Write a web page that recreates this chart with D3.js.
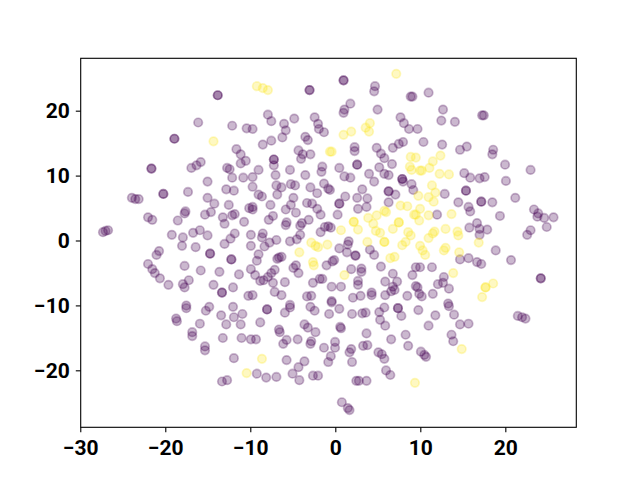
<!DOCTYPE html>
<html>
<head>
<meta charset="utf-8">
<script src="https://cdn.jsdelivr.net/npm/d3@7"></script>
<style>
  html, body { margin: 0; padding: 0; background: #fff; }
  svg { display: block; }
  .tick text { font-family: Roboto, sans-serif; font-weight: 700; font-size: 21px; fill: #000; }
</style>
</head>
<body>
<svg id="chart" width="640" height="480"></svg>
<script>
const xTicks = [-30, -20, -10, 0, 10, 20];
const yTicks = [-20, -10, 0, 10, 20];

// repeated pairs are the spots that look darker
const purplePoints = [
  [-13.9,22.3],[-13.9,22.3],[-16.2,18.1],[-12.2,17.6],[-10.5,17.2],[-19.0,15.6],[-19.0,15.6],[-11.7,14.0],[-11.2,13.2],[-10.6,12.2],
  [-11.2,11.8],[-15.9,12.0],[-16.4,11.5],[-17.0,11.1],[-21.7,11.0],[-21.7,11.0],[-12.8,11.1],[-12.5,10.9],[-12.2,9.6],[-10.9,9.6],
  [-15.1,9.0],[-12.9,7.8],[-12.0,7.6],[-17.4,7.4],[-20.3,7.1],[-20.3,7.1],[-24.0,6.5],[-23.6,6.3],[-23.2,6.3],[-15.1,6.5],
  [-14.3,5.6],[-12.6,5.4],[-10.2,4.9],[-14.7,4.3],[-15.4,3.9],[-17.7,4.4],[-17.8,4.1],[-13.3,3.5],[-11.9,4.0],[-12.2,3.8],
  [-22.1,3.5],[-21.6,3.1],[-18.6,3.0],[-13.1,2.5],[-10.8,2.8],[-26.8,1.5],[-27.1,1.4],[-27.4,1.2],[-16.0,1.5],[-16.8,1.1],
  [-15.1,0.7],[-19.3,0.8],[-18.0,0.4],[-11.9,1.0],[-12.4,0.2],[-13.1,-0.6],[-10.0,0.8],[-18.1,-0.9],[-16.5,-1.1],[-10.0,-0.9],
  [-14.8,-2.1],[-14.8,-2.1],[-12.3,-3.0],[-12.3,-3.0],[-20.8,-1.7],[-21.1,-2.3],[-22.1,-3.7],[-21.6,-4.5],[-21.3,-5.1],[-20.7,-5.9],
  [-19.7,-6.9],[-17.8,-4.0],[-15.9,-4.7],[-13.7,-4.9],[-11.4,-5.3],[-10.0,-4.5],[-17.3,-6.2],[-18.0,-6.8],[-17.8,-7.3],[-14.4,-6.9],
  [-12.1,-7.3],[-13.4,-8.1],[-13.4,-8.1],[-10.3,-8.6],[-9.8,-8.5],[-17.6,-10.1],[-17.6,-10.5],[-14.9,-10.3],[-15.3,-10.9],[-12.1,-10.3],
  [-13.5,-11.6],[-12.0,-11.9],[-11.0,-11.4],[-8.1,-10.7],[-8.1,-10.7],[-5.4,-10.0],[-5.4,-10.4],[-6.0,-11.2],[-18.8,-12.1],[-18.7,-12.5],
  [-16.0,-12.9],[-12.9,-13.0],[-11.2,-13.0],[-8.9,-12.7],[-6.7,-13.8],[-6.6,-14.2],[-16.9,-14.2],[-16.9,-14.8],[-13.3,-15.1],[-11.1,-15.1],
  [-10.0,-15.3],[-9.4,-15.3],[-5.8,-15.4],[-6.2,-16.0],[-4.5,-15.3],[-15.4,-16.4],[-15.4,-17.0],[-12.0,-18.2],[-5.8,-18.5],[-4.4,-19.6],
  [-9.3,-20.6],[-8.2,-21.2],[-7.0,-21.1],[-5.1,-20.6],[-4.3,-21.6],[-13.4,-21.8],[-12.8,-21.6],[-3.0,-10.3],[-2.5,-10.9],[-0.5,-9.4],
  [-0.5,-9.6],[0.4,-10.6],[-0.8,-11.4],[1.9,-11.4],[3.1,-11.3],[3.5,-11.2],[5.1,-11.1],[5.7,-10.4],[7.3,-10.5],[7.3,-10.5],
  [7.7,-11.7],[9.7,-10.8],[11.7,-11.6],[13.2,-9.8],[13.3,-10.2],[13.9,-11.5],[14.6,-13.0],[15.6,-12.9],[5.2,-12.3],[5.8,-13.2],
  [10.9,-13.2],[-3.7,-13.0],[-3.3,-13.5],[-2.4,-14.2],[0.5,-13.4],[0.6,-13.6],[3.6,-14.4],[13.6,-14.6],[13.8,-15.6],[8.2,-14.6],
  [6.5,-15.3],[8.5,-16.3],[3.2,-16.3],[3.7,-16.2],[-0.1,-15.7],[-0.1,-16.6],[-1.4,-16.6],[-2.9,-15.6],[-3.0,-16.0],[1.8,-16.8],
  [1.6,-17.3],[5.0,-17.3],[5.4,-17.6],[5.7,-18.3],[10.0,-17.2],[10.4,-17.7],[10.6,-18.0],[-0.6,-17.9],[-0.9,-18.8],[1.9,-18.8],
  [-3.7,-18.7],[5.9,-20.1],[6.4,-20.8],[-2.7,-20.9],[-2.1,-20.9],[2.4,-21.7],[2.7,-21.7],[3.6,-21.7],[0.7,-25.0],[1.4,-25.9],
  [1.6,-26.2],[21.4,-11.7],[21.9,-11.9],[22.3,-12.1],
  [-9.8,8.2],[-7.0,8.4],[-6.4,8.1],[-6.9,7.0],[-5.3,8.6],[-4.8,8.4],[-3.0,8.1],[-1.4,8.7],[-0.9,7.9],[-0.7,7.7],
  [-2.2,7.2],[-5.0,6.5],[-5.3,5.4],[-5.9,4.7],[-4.7,4.2],[-9.1,7.0],[-8.7,6.7],[-7.7,5.4],[-7.4,3.7],[-7.9,3.1],
  [-5.8,2.7],[-5.9,2.3],[-4.0,2.6],[-4.2,2.2],[-3.2,3.1],[-3.4,5.7],[-2.8,5.6],[-2.2,4.8],[-1.8,3.9],[0.4,5.6],
  [0.4,5.6],[0.2,3.9],[1.1,6.7],[3.1,7.8],[2.5,6.5],[3.7,6.4],[3.6,5.1],[2.6,4.8],[4.5,9.0],[6.2,7.5],
  [6.2,7.5],[7.0,7.0],[6.2,5.8],[7.9,9.0],[8.9,8.6],[9.1,7.7],[-1.3,2.0],[-0.9,2.1],[-0.6,1.9],[-1.8,1.2],
  [1.5,-0.2],[1.4,-0.7],[0.4,-1.3],[1.3,-1.9],[2.3,-2.4],[2.3,-2.4],[4.0,-1.5],[4.5,-2.3],[-0.2,-3.1],[-0.4,-3.3],
  [-1.1,-3.9],[3.0,-4.4],[3.0,-4.9],[1.8,-4.5],[5.3,-4.1],[6.7,-5.2],[2.6,-6.3],[2.6,-6.9],[0.6,-7.2],[-0.5,-7.2],
  [-1.6,-6.0],[-1.9,-6.0],[-2.7,-6.6],[-4.4,-5.1],[-4.7,-3.9],[-5.0,-4.3],[-6.7,-2.7],[-6.4,-2.6],[-6.9,-2.9],[-9.3,-3.2],
  [-9.1,-2.2],[-8.4,-1.0],[-7.8,-0.4],[-7.0,0.0],[-8.7,0.4],[-8.6,1.0],[-5.4,-0.2],[-4.6,0.1],[-4.2,0.8],[-7.2,-4.6],
  [-7.6,-5.1],[-8.0,-5.7],[-8.5,-6.2],[-9.5,-5.4],[-8.9,-6.3],[-7.4,-6.6],[-6.0,-6.5],[-7.2,-8.0],[-6.4,-8.5],[-3.4,-8.7],
  [-2.9,-8.6],[2.0,-8.9],[2.9,-8.6],[4.2,-8.1],[4.2,-8.5],[5.8,-6.4],[7.2,-6.4],[6.7,-7.2],[6.9,-7.7],[6.5,-7.9],
  [5.8,-8.5],[8.4,-8.6],[9.0,-5.4],[9.4,-7.1],[9.4,-4.2],[9.9,-4.2],[-9.8,4.7],[-9.8,5.1],
  [0.9,24.6],[0.9,24.6],[-3.1,23.1],[-3.1,23.1],[4.6,23.7],[4.5,22.9],[8.8,22.1],[9.0,22.1],[1.7,21.0],[1.0,20.1],
  [0.9,19.6],[4.9,20.1],[-8.0,19.3],[-7.6,18.3],[-6.1,17.9],[-4.9,18.7],[-2.5,18.9],[-2.1,17.9],[-2.0,17.1],[-1.4,16.6],
  [-5.9,16.9],[-9.8,17.1],[-6.3,15.8],[-7.6,15.3],[-8.6,14.7],[-3.6,15.9],[-3.3,15.4],[-4.4,13.8],[-3.9,13.2],[-4.1,12.5],
  [-3.0,13.2],[-7.3,12.4],[-7.3,12.4],[-7.3,11.5],[-9.1,10.8],[-5.4,10.8],[-7.1,10.0],[-3.6,10.0],[-9.8,9.7],[-1.6,11.3],
  [-1.7,10.5],[0.4,11.1],[1.0,9.8],[1.7,9.6],[2.5,11.6],[2.5,11.6],[3.9,10.2],[5.1,11.2],[5.7,10.2],[6.2,10.0],
  [6.6,11.7],[5.7,12.6],[5.3,13.3],[4.8,14.2],[6.7,14.2],[7.4,14.8],[7.9,15.1],[2.2,14.3],[2.2,13.7],[7.6,18.9],
  [8.0,18.0],[8.6,17.1],[9.6,17.1],[7.8,9.4],[7.8,9.4],
  [10.9,22.7],[12.6,20.1],[12.4,18.4],[14.0,18.2],[17.2,19.2],[17.4,19.2],[10.3,15.1],[12.5,14.7],[14.6,13.9],[15.4,14.4],
  [18.5,13.9],[18.4,13.2],[19.9,11.6],[22.9,10.8],[15.1,10.3],[15.8,9.6],[16.9,9.5],[17.5,9.7],[20.0,9.1],
  [12.8,7.1],[15.3,7.6],[15.3,7.6],[14.4,5.8],[17.1,5.9],[17.1,5.9],[18.4,5.8],[21.1,6.5],[15.6,5.1],[15.8,4.4],
  [11.9,3.9],[19.3,3.7],[23.3,4.7],[23.8,4.1],[23.7,3.6],[24.5,3.4],[25.6,3.5],[24.8,2.0],[22.9,1.5],[22.5,0.8],
  [16.6,2.6],[15.7,1.9],[16.9,1.7],[17.8,1.6],[16.9,0.8],[18.8,-1.6],[20.6,-3.1],[15.6,-2.8],[14.6,-3.0],[16.6,-3.4],
  [17.1,-3.7],[11.3,-4.2],[24.1,-5.9],[24.1,-5.9],[12.7,-5.7],[12.6,-6.6],[12.0,-6.8],[13.3,-7.5],[9.6,-7.3],[9.8,-8.3],
  [10.1,-8.7],[11.4,-8.3]
];

const yellowPoints = [
  [-14.4,15.2],[-8.7,-18.3],[-10.5,-20.5],[14.8,-16.8],[9.3,-22.0],[0.6,1.5],[2.1,2.8],[2.1,2.8],[2.6,1.6],[3.8,3.4],
  [4.4,2.5],[4.8,3.8],[5.7,4.5],[5.9,4.3],[7.6,5.3],[8.4,5.2],[9.4,3.9],[9.2,3.9],[9.7,6.8],[6.7,1.7],
  [7.4,2.7],[7.4,2.7],[4.7,1.4],[5.2,1.1],[3.7,-0.3],[5.7,-0.3],[5.7,-0.3],[8.5,1.2],[8.8,0.7],[8.2,-0.3],
  [7.8,-0.8],[6.4,-2.8],[6.9,-2.6],[-4.3,-1.9],[-2.9,-0.4],[-2.4,-0.9],[-2.1,-1.1],[-1.0,-0.7],[-2.7,-3.4],[-2.6,-3.9],
  [1.0,-5.4],[7.1,25.6],[-9.3,23.7],[-8.6,23.4],[-8.0,23.1],[4.0,18.0],[3.5,17.3],[3.9,16.7],[1.8,16.7],[0.9,16.2],
  [-0.7,13.6],[-0.5,13.6],[8.8,12.8],[9.4,12.7],[8.7,11.3],[8.9,10.8],[9.9,10.7],[12.3,13.0],[11.4,12.1],[11.0,11.1],
  [10.1,10.7],[12.2,10.2],[13.3,10.1],[11.3,8.4],[11.7,7.3],[10.9,6.6],[11.5,5.9],[13.6,4.0],[10.9,3.8],[9.9,4.8],
  [9.8,3.0],[12.9,1.7],[14.3,1.3],[14.4,0.7],[11.6,1.3],[11.4,1.0],[10.9,0.3],[16.8,-0.4],[9.9,-0.9],[10.2,-1.6],
  [10.5,-2.3],[12.7,-1.6],[12.9,-1.2],[14.5,-1.9],[13.8,-5.1],[18.5,-6.7],[17.6,-7.3],[17.6,-7.3],[17.2,-8.8]
];

const margin = { top: 58.3, right: 63.7, bottom: 52.7, left: 80.7 };
const width = 640 - margin.left - margin.right;
const height = 480 - margin.top - margin.bottom;

const xScale = d3.scaleLinear().domain([-29.95, 28.35]).range([0, width]);
const yScale = d3.scaleLinear().domain([-28.78, 28.07]).range([height, 0]);

const fmt = d => String(d).replace('-', '\u2212');

const chart = d3.select('#chart').append('g')
  .attr('transform', `translate(${margin.left},${margin.top})`);

function drawPoints(points, color) {
  // small nudge, the values were read against slightly rounded tick positions
  chart.append('g')
    .attr('transform', 'translate(0.6,-0.5)')
    .selectAll('circle')
    .data(points)
    .enter().append('circle')
    .attr('cx', d => xScale(d[0]))
    .attr('cy', d => yScale(d[1]))
    .attr('r', 4.25)
    .attr('fill', color)
    .attr('stroke', color)
    .attr('stroke-width', 1.7)
    .attr('fill-opacity', 0.28)
    .attr('stroke-opacity', 0.28);
}

drawPoints(purplePoints, '#440154');
drawPoints(yellowPoints, '#fde725');

const xAxis = d3.axisBottom(xScale).tickValues(xTicks).tickFormat(fmt).tickSizeOuter(0).tickSize(4.9).tickPadding(7.9);
const yAxis = d3.axisLeft(yScale).tickValues(yTicks).tickFormat(fmt).tickSizeOuter(0).tickSize(4.9).tickPadding(6);

chart.append('g').attr('transform', `translate(0,${height})`).call(xAxis);
chart.append('g').call(yAxis);
chart.selectAll('.domain').remove();
chart.selectAll('.tick line').attr('stroke', '#000').attr('stroke-width', 1.1);

chart.append('rect')
  .attr('width', width)
  .attr('height', height)
  .attr('fill', 'none')
  .attr('stroke', '#000')
  .attr('stroke-width', 1.1);
</script>
</body>
</html>
